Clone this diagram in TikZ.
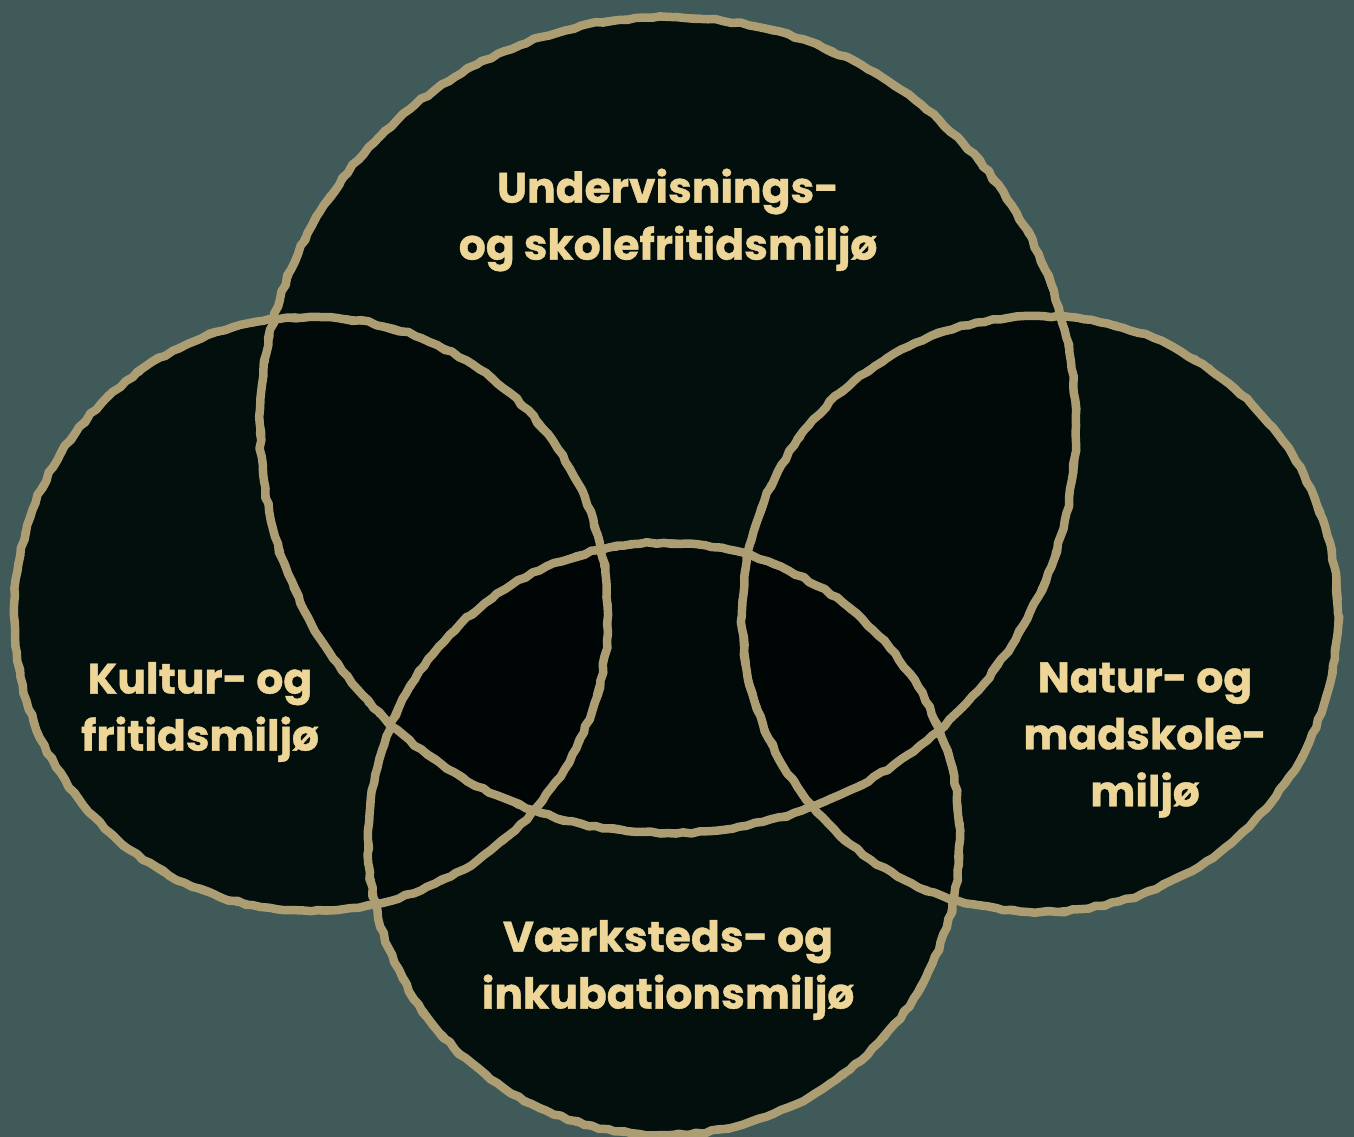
\documentclass[tikz,border=0pt]{standalone}
\usepackage{fontspec}
\setmainfont{Poppins}[BoldFeatures={FakeBold=0.9}]
\usetikzlibrary{decorations.pathmorphing}

\definecolor{bgteal}{HTML}{3F5A58}
\definecolor{discbase}{HTML}{041614}
\definecolor{rimcol}{HTML}{AD9D72}
\definecolor{labelcol}{HTML}{EDD698}

\begin{document}
\begin{tikzpicture}[x=1pt,y=-1pt,
        shade/.style={fill=black,fill opacity=0.3},
        rimline/.style={draw=rimcol,line width=6.5pt,line join=round,line cap=round,
          decorate,decoration={random steps,segment length=8pt,amplitude=1.2pt}},
        lbl/.style={text=labelcol,font=\bfseries\fontsize{42.5}{57}\selectfont,align=center}]
   \pgfmathsetseed{7}
   % background and frame
   \fill[bgteal] (0,0) rectangle (1354,1137);
   \useasboundingbox (0,0) rectangle (1354,1137);

   % circle centres
   \coordinate (und) at (668,425);
   \coordinate (kul) at (311,614);
   \coordinate (nat) at (1040,614);
   \coordinate (vrk) at (664,839);

   % filled discs, overlaps come out darker
   \fill[discbase] (und) circle[radius=408pt] (kul) circle[radius=297pt]
                   (nat) circle[radius=298pt] (vrk) circle[radius=296pt];
   \fill[shade] (und) circle[radius=408pt];
   \fill[shade] (kul) circle[radius=297pt];
   \fill[shade] (nat) circle[radius=298pt];
   \fill[shade] (vrk) circle[radius=296pt];

   % rough rims
   \foreach \w in {8.5pt,6pt}{
     \draw[rimline,line width=\w] (und) circle[radius=408pt];
     \draw[rimline,line width=\w] (kul) circle[radius=297pt];
     \draw[rimline,line width=\w] (nat) circle[radius=298pt];
     \draw[rimline,line width=\w] (vrk) circle[radius=296pt];
   }

   % labels
   \node[lbl] (undtxt) at (668,220) {Undervisnings-\\og skolefritidsmiljø};
   \node[lbl] (kultxt) at (200,712) {Kultur- og\\fritidsmiljø};
   \node[lbl] (nattxt) at (1145,740) {Natur- og\\madskole-\\miljø};
   \node[lbl] (vrktxt) at (668,970) {Værksteds- og\\inkubationsmiljø};
\end{tikzpicture}
\end{document}
